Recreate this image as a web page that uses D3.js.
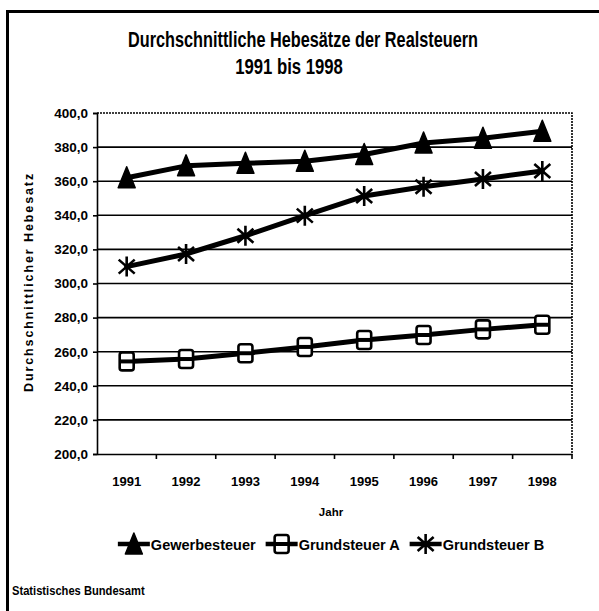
<!DOCTYPE html>
<html>
<head>
<meta charset="utf-8">
<script src="https://cdn.jsdelivr.net/npm/d3@7"></script>
<style>
  html, body { margin: 0; padding: 0; background: #fff; }
  svg { display: block; }
  text { font-family: "Liberation Sans", Arial, sans-serif; fill: #000; }
</style>
</head>
<body>
<svg id="chart" width="599" height="611"></svg>
<script>
const years = ["1991", "1992", "1993", "1994", "1995", "1996", "1997", "1998"];
const gewerbesteuer = [362.0, 369.0, 370.5, 371.7, 375.7, 382.4, 385.2, 389.3];
const grundsteuerA = [254.3, 255.7, 259.1, 262.8, 266.9, 269.8, 273.1, 275.8];
const grundsteuerB = [309.9, 317.3, 328.0, 339.8, 351.3, 356.8, 361.3, 366.0];
const yTicks = [200, 220, 240, 260, 280, 300, 320, 340, 360, 380, 400];
const seriesNames = ["Gewerbesteuer", "Grundsteuer A", "Grundsteuer B"];
const titleLines = ["Durchschnittliche Hebesätze der Realsteuern", "1991 bis 1998"];
const yTitle = "Durchschnittlicher Hebesatz";
const xTitle = "Jahr";
const sourceText = "Statistisches Bundesamt";

const svg = d3.select("#chart");
const L = 97, R = 572, T = 113, B = 454;
const FONT = "'Liberation Sans', Arial, sans-serif";

// outer frame
svg.append("rect").attr("x", 7.5).attr("y", 11.5).attr("width", 640).attr("height", 640)
  .attr("fill", "none").attr("stroke", "#000").attr("stroke-width", 3);

// title (condensed via horizontal scale)
svg.append("text").attr("transform", "translate(303,47) scale(0.74,1)").attr("text-anchor", "middle")
  .attr("font-size", 22).attr("font-weight", "bold").text(titleLines[0]);
svg.append("text").attr("transform", "translate(289,74) scale(0.76,1)").attr("text-anchor", "middle")
  .attr("font-size", 22).attr("font-weight", "bold").text(titleLines[1]);

const x = d3.scaleBand().domain(years).range([L, R]);
const cx = d => x(d) + x.bandwidth() / 2;
const y = d3.scaleLinear().domain([200, 400]).range([B, T]);

// gridlines
svg.append("g").selectAll("line").data(yTicks.filter(v => v > 200 && v < 400)).join("line")
  .attr("x1", L).attr("x2", R).attr("y1", d => y(d)).attr("y2", d => y(d))
  .attr("stroke", "#000").attr("stroke-width", 1.6);

// plot border top/right (dotted)
svg.append("path").attr("d", `M${L},${T}H${R}V${B}`).attr("fill", "none")
  .attr("stroke", "#000").attr("stroke-width", 1.6).attr("stroke-dasharray", "2,1");

// y axis
const yAxis = svg.append("g").attr("transform", `translate(${L},0)`)
  .call(d3.axisLeft(y).tickValues(yTicks).tickSize(4).tickPadding(5)
    .tickFormat(d => d3.format(".1f")(d).replace(".", ",")));
yAxis.select(".domain").attr("stroke-width", 1.6);
yAxis.selectAll(".tick line").attr("stroke-width", 1.6);
yAxis.selectAll("text").attr("font-size", 13.5).attr("font-weight", "bold").attr("font-family", FONT);

// x axis
const xAxis = svg.append("g").attr("transform", `translate(0,${B})`)
  .call(d3.axisBottom(x).tickSize(0).tickPadding(23));
xAxis.select(".domain").attr("stroke-width", 1.6);
xAxis.selectAll("text").attr("font-size", 13).attr("font-weight", "bold").attr("font-family", FONT);
svg.append("g").selectAll("line").data(years.slice(1).concat(["end"])).join("line")
  .attr("x1", d => d === "end" ? R : x(d)).attr("x2", d => d === "end" ? R : x(d))
  .attr("y1", B).attr("y2", B + 5).attr("stroke", "#000").attr("stroke-width", 1.6);

// axis titles
svg.append("text").attr("transform", "translate(33,282) rotate(-90)")
  .attr("text-anchor", "middle").attr("font-size", 12.5).attr("font-weight", "bold")
  .attr("letter-spacing", 1.9).text(yTitle);
svg.append("text").attr("x", 331).attr("y", 516).attr("text-anchor", "middle")
  .attr("font-size", 11.5).attr("font-weight", "bold").text(xTitle);

// lines
const line = d3.line().x((d, i) => cx(years[i])).y(d => y(d));
[gewerbesteuer, grundsteuerA, grundsteuerB].forEach(s => {
  svg.append("path").attr("d", line(s)).attr("fill", "none").attr("stroke", "#000")
    .attr("stroke-width", 5).attr("stroke-linejoin", "round").attr("stroke-linecap", "round");
});

// markers
const triPath = "M0,-11 L8.5,10 L-8.5,10 Z";
const starPath = "M0,-10V10 M-8,-7L8,7 M-8,7L8,-7";
function drawTri(g, px, py) {
  g.append("path").attr("d", triPath).attr("transform", `translate(${px},${py})`)
    .attr("fill", "#000").attr("stroke", "#000").attr("stroke-width", 1.5).attr("stroke-linejoin", "round");
}
function drawSq(g, px, py) {
  g.append("rect").attr("x", px - 7).attr("y", py - 9).attr("width", 14).attr("height", 18)
    .attr("rx", 2.5).attr("fill", "#fff").attr("stroke", "#000").attr("stroke-width", 2.6);
  g.append("line").attr("x1", px - 7).attr("x2", px + 7).attr("y1", py).attr("y2", py)
    .attr("stroke", "#000").attr("stroke-width", 4);
}
function drawStar(g, px, py) {
  g.append("path").attr("d", starPath).attr("transform", `translate(${px},${py})`)
    .attr("fill", "none").attr("stroke", "#000").attr("stroke-width", 2.6);
}
const mk = svg.append("g");
gewerbesteuer.forEach((v, i) => drawTri(mk, cx(years[i]), y(v)));
grundsteuerA.forEach((v, i) => drawSq(mk, cx(years[i]), y(v)));
grundsteuerB.forEach((v, i) => drawStar(mk, cx(years[i]), y(v)));

// legend
const drawers = [drawTri, drawSq, drawStar];
const lg = svg.append("g");
let cur = 0;
seriesNames.forEach((name, i) => {
  const g = lg.append("g").attr("transform", `translate(${cur},0)`);
  g.append("line").attr("x1", 0).attr("x2", 32).attr("y1", 0).attr("y2", 0)
    .attr("stroke", "#000").attr("stroke-width", 4.5);
  const t = g.append("text").attr("x", 33).attr("y", 5.5).attr("font-size", 14.5)
    .attr("font-weight", "bold").text(name);
  drawers[i](g, 16, 0);
  const w = 33 + t.node().getComputedTextLength();
  cur += w + 10;
});
const total = cur - 10;
lg.attr("transform", `translate(${331 - total / 2},544)`);

// source
svg.append("text").attr("transform", "translate(12,595) scale(0.93,1)").attr("font-size", 12)
  .attr("font-weight", "bold").text(sourceText);
</script>
</body>
</html>
